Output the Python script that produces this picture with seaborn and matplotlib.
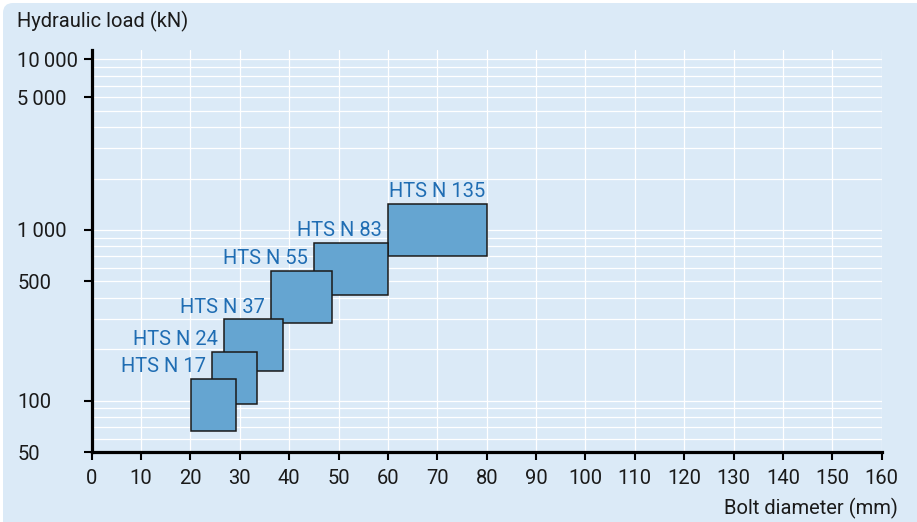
"""Hydraulic load vs bolt diameter ranges for HTS N nut sizes."""

import matplotlib.pyplot as plt
import seaborn as sns
from matplotlib.patches import FancyBboxPatch
from matplotlib.ticker import LogLocator, NullFormatter

# HTS N sizes: bolt diameter range (mm) and hydraulic load range (kN)
sizes = ["HTS N 17", "HTS N 24", "HTS N 37", "HTS N 55", "HTS N 83", "HTS N 135"]
diam_min = [20.1, 24.3, 26.8, 36.3, 45.0, 60.0]
diam_max = [29.2, 33.4, 38.8, 48.7, 60.0, 80.0]
load_min = [66, 96, 149, 284, 417, 702]
load_max = [134, 193, 300, 576, 841, 1417]

x_ticks = list(range(0, 161, 10))
y_ticks = [50, 100, 500, 1000, 6000, 10000]
y_tick_labels = ["50", "100", "500", "1\u2009000", "5\u2009000", "10\u2009000"]

BG = "#dbeaf7"
BOX = "#65a5d1"
BLUE = "#1f6db3"
INK = "#1a1a1a"
FS = 14.5

sns.set_theme(style="ticks", rc={"axes.facecolor": BG, "figure.facecolor": "white"})
plt.rcParams["font.family"] = ["Roboto", "DejaVu Sans"]

fig, ax = plt.subplots(figsize=(9.17, 5.22), dpi=100)
fig.subplots_adjust(left=0.1, right=0.9615, bottom=0.134, top=0.904)

# rounded light-blue panel behind everything
fig.patches.append(
    FancyBboxPatch(
        (0.03, -0.1), 9.3, 5.29,
        boxstyle="round,pad=0,rounding_size=0.1",
        transform=fig.dpi_scale_trans, facecolor=BG, edgecolor="none", zorder=-10,
    )
)

ax.set_yscale("log")
ax.set_xlim(0, 160)
ax.set_ylim(50, 11300)

# boxes: earlier sizes on top of later ones
n = len(sizes)
for i in range(n):
    ax.bar(
        diam_min[i], load_max[i] - load_min[i], bottom=load_min[i],
        width=diam_max[i] - diam_min[i], align="edge",
        color=BOX, edgecolor=INK, linewidth=1.1, zorder=10 + n - i,
    )

for i in range(n - 1):
    ax.annotate(
        sizes[i], xy=(diam_min[i + 1], load_max[i]), xytext=(-4.3, 4.8),
        textcoords="offset points", ha="right", va="baseline",
        color=BLUE, fontsize=FS, zorder=20,
    )
ax.annotate(
    sizes[-1], xy=((diam_min[-1] + diam_max[-1]) / 2, load_max[-1]), xytext=(0, 4.8),
    textcoords="offset points", ha="center", va="baseline",
    color=BLUE, fontsize=FS, zorder=20,
)

ax.set_xticks(x_ticks)
ax.set_yticks(y_ticks)
ax.set_yticklabels(y_tick_labels)
ax.yaxis.set_minor_locator(LogLocator(base=10, subs=range(2, 10)))
ax.yaxis.set_minor_formatter(NullFormatter())

ax.grid(True, which="both", axis="y", color="white", linewidth=0.9)
ax.grid(True, which="major", axis="x", color="white", linewidth=0.9)
ax.set_axisbelow(True)

for side in ("top", "right"):
    ax.spines[side].set_visible(False)
for side in ("left", "bottom"):
    ax.spines[side].set_color("black")
    ax.spines[side].set_linewidth(2.3)
    ax.spines[side].set_zorder(30)

ax.tick_params(axis="both", which="major", direction="out", length=6, width=1.5,
               color="black", labelsize=FS, labelcolor=INK)
ax.tick_params(axis="x", pad=6.5)
ax.tick_params(axis="y", pad=47.5)
ax.tick_params(axis="y", which="minor", length=0)
plt.setp(ax.get_yticklabels(), ha="left")

fig.text(17 / 917, 1 - 27 / 522, "Hydraulic load (kN)", fontsize=FS, color=INK,
         ha="left", va="baseline")
fig.text(898 / 917, 1 - 514 / 522, "Bolt diameter (mm)", fontsize=FS, color=INK,
         ha="right", va="baseline")

fig.savefig("out.png", dpi=100)
